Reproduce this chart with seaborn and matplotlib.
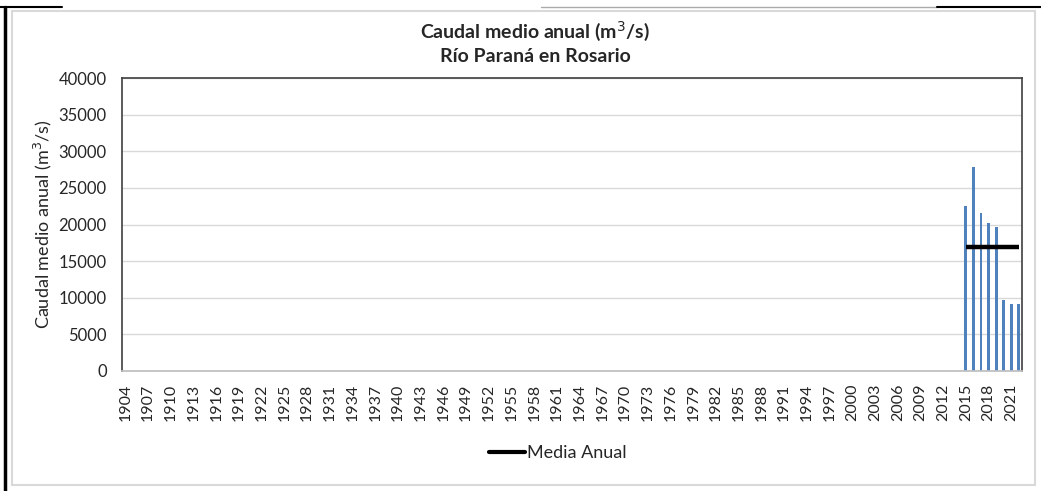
import numpy as np
import pandas as pd
import matplotlib
matplotlib.use("Agg")
import matplotlib.pyplot as plt
import seaborn as sns
from matplotlib.lines import Line2D
from matplotlib.patches import Rectangle

# datos: caudal medio anual, Rio Parana en Rosario
years = list(range(1904, 2023))
data_years = [2015, 2016, 2017, 2018, 2019, 2020, 2021, 2022]
data_caudal = [22500, 27900, 21600, 20200, 19700, 9700, 9150, 9150]
media_anual = [16900, 16900, 16900, 16900, 16900, 16900, 16900, 16900]
tick_years = list(range(1904, 2023, 3))

df = pd.DataFrame({"anio": [str(y) for y in years]})
df["caudal"] = df["anio"].map(dict(zip([str(y) for y in data_years], data_caudal)))

sns.set_theme(style="white")
plt.rcParams["font.family"] = ["Lato", "DejaVu Sans"]

fig = plt.figure(figsize=(10.41, 4.91), dpi=100)
ax = fig.add_axes([0.1172, 0.2444, 0.8645, 0.5967])

sns.barplot(data=df, x="anio", y="caudal", order=df["anio"].tolist(),
            color="#4F81BD", saturation=1, width=0.38, linewidth=0,
            ax=ax, errorbar=None)

# linea de media anual
pos = [years.index(y) for y in data_years]
ax.plot(pos, media_anual, color="black", lw=3.2, solid_capstyle="butt")

ax.set_ylim(0, 40000)
ax.set_xlim(-0.45, len(years) - 0.6)
ax.set_yticks(range(0, 40001, 5000))
ax.yaxis.grid(True, color="#D9D9D9", lw=1)
ax.set_axisbelow(True)
ax.tick_params(axis="y", labelsize=12, pad=11, length=0)
ax.set_xticks([years.index(y) for y in tick_years])
ax.set_xticklabels([str(y) for y in tick_years], rotation=90, fontsize=11.5)
ax.tick_params(axis="x", length=0, pad=9)
ax.set_xlabel("")
ax.set_ylabel("Caudal medio anual (m$^3$/s)", fontsize=13, labelpad=3)

for side in ["top", "left", "right"]:
    ax.spines[side].set_color("#404040")
    ax.spines[side].set_linewidth(1.2)
ax.spines["bottom"].set_color("#BFBFBF")

fig.text(0.514, 0.937, "Caudal medio anual (m$^3$/s)", ha="center", va="center",
         fontsize=14, fontweight="bold")
fig.text(0.514, 0.885, "Río Paraná en Rosario", ha="center", va="center",
         fontsize=14, fontweight="bold")

handle = [Line2D([0], [0], color="black", lw=3)]
fig.legend(handle, ["Media Anual"], loc="center", bbox_to_anchor=(0.536, 0.077),
           frameon=False, fontsize=13, handlelength=2.0, handletextpad=0.1)

# marco de la figura
fig.patches.append(Rectangle((0.012, 0.012), 0.982, 0.966, transform=fig.transFigure,
                             fill=False, edgecolor="#D9D9D9", lw=1.5))
fig.add_artist(Line2D([0.005, 0.005], [0, 0.986], transform=fig.transFigure,
                      color="black", lw=2.5))
fig.add_artist(Line2D([0.0, 0.06], [0.986, 0.986], transform=fig.transFigure,
                      color="black", lw=1.5))
fig.add_artist(Line2D([0.52, 0.9], [0.986, 0.986], transform=fig.transFigure,
                      color="#AAAAAA", lw=1))
fig.add_artist(Line2D([0.9, 1.0], [0.986, 0.986], transform=fig.transFigure,
                      color="black", lw=1.5))

fig.savefig("out.png", dpi=100)
